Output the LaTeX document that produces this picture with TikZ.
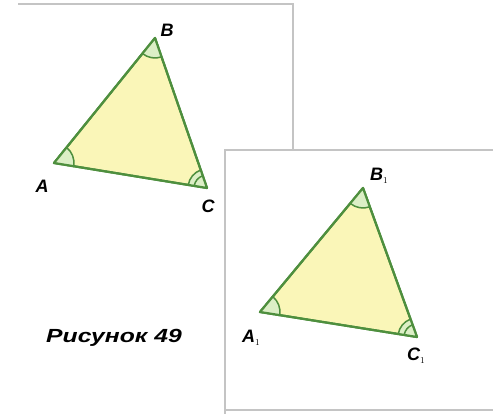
\documentclass[tikz,border=0pt]{standalone}
\usepackage{fontspec}
\setmainfont{Liberation Sans}
\usetikzlibrary{angles}
\definecolor{edge}{HTML}{4E8F3E}
\definecolor{paper}{HTML}{FAF6B8}
\definecolor{sector}{HTML}{DCEFC6}
\definecolor{frame}{HTML}{C4C4C4}

\begin{document}
\begin{tikzpicture}[x=1pt,y=1pt,
side/.style={draw=edge,line width=2.2pt,fill=paper,line join=round},
arcmark/.style={draw=edge,line width=1.5pt,fill=sector},
lbl/.style={font=\bfseries\itshape\fontsize{18}{18}\selectfont,inner sep=0pt},
panel/.style={draw=frame,line width=1.8pt}]
\useasboundingbox (0,0) rectangle (493,414);
% first sheet
\draw[panel] (18,410) -- (293,410) -- (293,259);
\coordinate (A) at (54,251);
\coordinate (B) at (155,376);
\coordinate (C) at (207,226);
\draw[side] (A) -- (B) -- (C) -- cycle;
\pic[arcmark,angle radius=20pt] {angle=C--A--B};
\pic[arcmark,angle radius=20pt] {angle=A--B--C};
\pic[arcmark,angle radius=19pt] {angle=B--C--A};
\pic[arcmark,angle radius=13pt] {angle=B--C--A};
\draw[side,fill=none] (A) -- (B) -- (C) -- cycle;
\node[lbl] (labA) at (42,228) {A};
\node[lbl] (labB) at (167,384) {B};
\node[lbl] (labC) at (208,208) {C};
\node[lbl,font=\bfseries\itshape\fontsize{19}{19}\selectfont,xscale=1.3] (caption) at (114,76) {Рисунок 49};
% second sheet
\fill[white] (225,4) rectangle (493,264);
\draw[panel] (225,0) -- (225,264) -- (493,264);
\draw[panel] (225,4) -- (493,4);
\coordinate (A1) at (260,102);
\coordinate (B1) at (363,226);
\coordinate (C1) at (417,77);
\draw[side] (A1) -- (B1) -- (C1) -- cycle;
\pic[arcmark,angle radius=20pt] {angle=C1--A1--B1};
\pic[arcmark,angle radius=20pt] {angle=A1--B1--C1};
\pic[arcmark,angle radius=19pt] {angle=B1--C1--A1};
\pic[arcmark,angle radius=13pt] {angle=B1--C1--A1};
\draw[side,fill=none] (A1) -- (B1) -- (C1) -- cycle;
\node[lbl,anchor=west] (labA1) at (242,76) {A$_{\scriptscriptstyle 1}$};
\node[lbl,anchor=west] (labB1) at (370,238) {B$_{\scriptscriptstyle 1}$};
\node[lbl,anchor=west] (labC1) at (407,58) {C$_{\scriptscriptstyle 1}$};
\end{tikzpicture}
\end{document}
